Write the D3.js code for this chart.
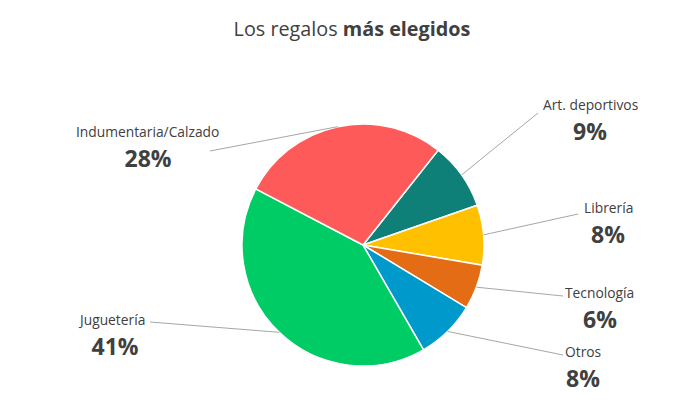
<!DOCTYPE html>
<html>
<head>
<meta charset="utf-8">
<script src="https://cdn.jsdelivr.net/npm/d3@7"></script>
<style>
  body { margin: 0; background: #fff; }
  text { font-family: "Open Sans", "Noto Sans", sans-serif; fill: #404040; }
</style>
</head>
<body>
<div id="chart"></div>
<script>
const width = 693, height = 409;

// Data, in clockwise order
const categories = ["Art. deportivos", "Librería", "Tecnología", "Otros", "Juguetería", "Indumentaria/Calzado"];
const shares = [9, 8, 6, 8, 41, 28];
const colors = ["#0e8078", "#ffc000", "#e46c14", "#0099cc", "#00cc66", "#ff5a5a"];

// Label placement: centre x of the percentage, baseline of the name, leader end, name start
const labelPos = [
  { x: 590, y: 110, lx: 538, ly: 113, nx: 543 },
  { x: 608, y: 213, lx: 578, ly: 214, nx: 584 },
  { x: 600, y: 298, lx: 563, ly: 296, nx: 565 },
  { x: 583, y: 357, lx: 563, ly: 355, nx: 565 },
  { x: 115, y: 325, lx: 150, ly: 322, nx: 80 },
  { x: 148, y: 137, lx: 210, ly: 151, nx: 76 }
];

const cx = 363, cy = 245, r = 121;

const svg = d3.select("#chart")
  .append("svg")
  .attr("width", width)
  .attr("height", height);

// Title
const title = svg.append("text")
  .attr("x", 352)
  .attr("y", 36)
  .attr("text-anchor", "middle")
  .style("font-size", "19.8px");
title.append("tspan").text("Los regalos ");
title.append("tspan").style("font-weight", "bold").text("más elegidos");

const data = categories.map((c, i) => ({ name: c, value: shares[i], color: colors[i], pos: labelPos[i] }));

const pie = d3.pie()
  .sort(null)
  .value(d => d.value)
  .startAngle(38.4 * Math.PI / 180)
  .endAngle(38.4 * Math.PI / 180 + 2 * Math.PI);

const arc = d3.arc().innerRadius(0).outerRadius(r);

const g = svg.append("g").attr("transform", `translate(${cx},${cy})`);

const arcs = pie(data);

g.selectAll("path")
  .data(arcs)
  .join("path")
  .attr("d", arc)
  .attr("fill", d => d.data.color)
  .attr("stroke", "#fff")
  .attr("stroke-width", 1.5);

// Leader lines
svg.append("g")
  .selectAll("polyline")
  .data(arcs)
  .join("polyline")
  .attr("points", d => {
    const a = (d.startAngle + d.endAngle) / 2;
    const px = cx + r * Math.sin(a), py = cy - r * Math.cos(a);
    return `${px},${py} ${d.data.pos.lx},${d.data.pos.ly}`;
  })
  .attr("fill", "none")
  .attr("stroke", "#a6a6a6")
  .attr("stroke-width", 1);

// Labels
const lab = svg.append("g")
  .selectAll("g")
  .data(arcs)
  .join("g");

lab.append("text")
  .attr("x", d => d.data.pos.nx)
  .attr("y", d => d.data.pos.y)
  .style("font-size", "13.8px")
  .text(d => d.data.name);

lab.append("text")
  .attr("x", d => d.data.pos.x)
  .attr("y", d => d.data.pos.y + 30)
  .attr("text-anchor", "middle")
  .style("font-size", "23px")
  .style("font-weight", "bold")
  .text(d => d.data.value + "%");
</script>
</body>
</html>
